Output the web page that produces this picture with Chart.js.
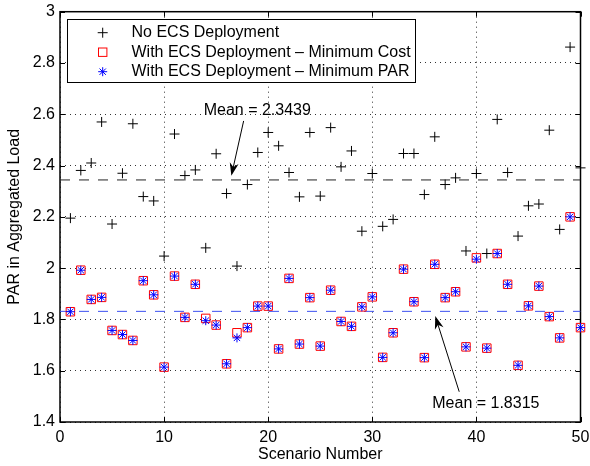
<!DOCTYPE html>
<html>
<head>
<meta charset="utf-8">
<title>PAR in Aggregated Load</title>
<script src="https://cdn.jsdelivr.net/npm/chart.js@4.4.0/dist/chart.umd.min.js"></script>
<style>
  body { margin: 0; background: #fff; }
  canvas { display: block; }
</style>
</head>
<body>
<canvas id="chart" width="590" height="466"></canvas>
<script>
const scenarios = [1, 2, 3, 4, 5, 6, 7, 8, 9, 10, 11, 12, 13, 14, 15, 16, 17, 18, 19, 20,
  21, 22, 23, 24, 25, 26, 27, 28, 29, 30, 31, 32, 33, 34, 35, 36, 37, 38, 39, 40,
  41, 42, 43, 44, 45, 46, 47, 48, 49, 50];

const noEcs = [2.195, 2.381, 2.410, 2.570, 2.172, 2.370, 2.563, 2.279, 2.262, 2.047,
  2.523, 2.361, 2.383, 2.079, 2.446, 2.291, 2.008, 2.326, 2.451, 2.529,
  2.477, 2.373, 2.278, 2.529, 2.281, 2.548, 2.395, 2.457, 2.144, 2.369,
  2.163, 2.190, 2.447, 2.447, 2.287, 2.512, 2.326, 2.352, 2.067, 2.369,
  2.057, 2.580, 2.373, 2.125, 2.243, 2.250, 2.538, 2.151, 2.862, 2.391];

const minCost = [1.830, 1.992, 1.878, 1.886, 1.757, 1.741, 1.718, 1.951, 1.896, 1.614,
  1.969, 1.808, 1.937, 1.804, 1.778, 1.627, 1.748, 1.768, 1.852, 1.852,
  1.685, 1.960, 1.704, 1.885, 1.696, 1.914, 1.792, 1.773, 1.849, 1.888,
  1.652, 1.748, 1.996, 1.869, 1.651, 2.015, 1.885, 1.908, 1.693, 2.040,
  1.688, 2.057, 1.937, 1.621, 1.853, 1.930, 1.811, 1.728, 2.200, 1.768];

const minPar = [1.830, 1.992, 1.878, 1.886, 1.757, 1.741, 1.718, 1.951, 1.896, 1.614,
  1.969, 1.808, 1.937, 1.795, 1.778, 1.627, 1.728, 1.768, 1.852, 1.852,
  1.685, 1.960, 1.704, 1.885, 1.696, 1.914, 1.792, 1.773, 1.849, 1.888,
  1.652, 1.748, 1.996, 1.869, 1.651, 2.015, 1.885, 1.908, 1.693, 2.035,
  1.688, 2.057, 1.937, 1.621, 1.853, 1.930, 1.811, 1.728, 2.200, 1.768];

const meanNoEcs = 2.3439;
const meanWithEcs = 1.8315;

const xTicks = [0, 10, 20, 30, 40, 50];
const yTicks = [1.4, 1.6, 1.8, 2, 2.2, 2.4, 2.6, 2.8, 3];

const seriesNames = [
  'No ECS Deployment',
  'With ECS Deployment \u2013 Minimum Cost',
  'With ECS Deployment \u2013 Minimum PAR'
];

// annotation text + arrow, given in data units
const notes = [
  { text: 'Mean = 2.3439', tx: 13.8, ty: 2.616, from: [17.64, 2.574], to: [16.46, 2.360] },
  { text: 'Mean = 1.8315', tx: 35.76, ty: 1.473, from: [38.35, 1.518], to: [36.05, 1.813] }
];

const FONT = '16px "Liberation Sans", Arial, sans-serif';
Chart.defaults.font.family = '"Liberation Sans", Arial, sans-serif';
Chart.defaults.font.size = 16;
Chart.defaults.color = '#000';

const pts = vals => vals.map((v, i) => ({ x: scenarios[i], y: v }));

function arrow(ctx, x1, y1, x2, y2) {
  const ang = Math.atan2(y2 - y1, x2 - x1);
  const len = 13, half = 4.5;
  ctx.beginPath();
  ctx.moveTo(x1, y1);
  ctx.lineTo(x2 - Math.cos(ang) * 8, y2 - Math.sin(ang) * 8);
  ctx.stroke();
  const bx = x2 - Math.cos(ang) * len, by = y2 - Math.sin(ang) * len;
  const nx = -Math.sin(ang), ny = Math.cos(ang);
  ctx.beginPath();
  ctx.moveTo(x2, y2);
  ctx.lineTo(bx + nx * half, by + ny * half);
  ctx.lineTo(x2 - Math.cos(ang) * 9, y2 - Math.sin(ang) * 9);
  ctx.lineTo(bx - nx * half, by - ny * half);
  ctx.closePath();
  ctx.fill();
}

const matlabBits = {
  id: 'matlabBits',
  beforeDatasetsDraw(chart) {
    const { ctx, chartArea: a, scales: { x, y } } = chart;
    ctx.save();
    ctx.strokeStyle = '#000';
    ctx.lineWidth = 1;
    // inside tick marks on all four sides
    ctx.beginPath();
    xTicks.forEach(v => {
      const px = Math.round(x.getPixelForValue(v)) + 0.5;
      ctx.moveTo(px, a.bottom); ctx.lineTo(px, a.bottom - 5);
      ctx.moveTo(px, a.top); ctx.lineTo(px, a.top + 5);
    });
    yTicks.forEach(v => {
      const py = Math.round(y.getPixelForValue(v)) + 0.5;
      ctx.moveTo(a.left, py); ctx.lineTo(a.left + 5, py);
      ctx.moveTo(a.right, py); ctx.lineTo(a.right - 5, py);
    });
    ctx.stroke();
    ctx.lineWidth = 1.5;
    ctx.strokeRect(a.left, a.top, a.right - a.left, a.bottom - a.top);
    ctx.restore();
  },
  afterDraw(chart) {
    const { ctx, chartArea: a, scales: { x, y } } = chart;
    ctx.save();
    ctx.font = FONT;
    ctx.fillStyle = '#000';
    ctx.strokeStyle = '#000';
    ctx.lineWidth = 1;

    // axis titles
    ctx.textAlign = 'center';
    ctx.textBaseline = 'middle';
    ctx.fillText('Scenario Number', (a.left + a.right) / 2, 455);
    ctx.save();
    ctx.translate(15, (a.top + a.bottom) / 2);
    ctx.rotate(-Math.PI / 2);
    ctx.fillText('PAR in Aggregated Load', 0, 0);
    ctx.restore();

    // mean annotations
    ctx.textAlign = 'left';
    notes.forEach(n => {
      ctx.fillText(n.text, x.getPixelForValue(n.tx), y.getPixelForValue(n.ty));
      arrow(ctx,
        x.getPixelForValue(n.from[0]), y.getPixelForValue(n.from[1]),
        x.getPixelForValue(n.to[0]), y.getPixelForValue(n.to[1]));
    });

    // legend box
    const lx = 67.5, ly = 19.5, lw = 348, lh = 63;
    ctx.fillStyle = '#fff';
    ctx.fillRect(lx, ly, lw, lh);
    ctx.strokeRect(lx, ly, lw, lh);
    const rows = [32.7, 52.2, 71.7];
    const mx = 102.7;
    // +
    ctx.strokeStyle = '#000';
    ctx.beginPath();
    ctx.moveTo(mx - 5, rows[0]); ctx.lineTo(mx + 5, rows[0]);
    ctx.moveTo(mx, rows[0] - 5); ctx.lineTo(mx, rows[0] + 5);
    ctx.stroke();
    // square
    ctx.strokeStyle = '#ff0000';
    ctx.strokeRect(mx - 4.2, rows[1] - 4.2, 8.4, 8.4);
    // asterisk
    ctx.strokeStyle = '#0000ff';
    ctx.beginPath();
    for (let k = 0; k < 4; k++) {
      const t = k * Math.PI / 4, r = 4.5;
      ctx.moveTo(mx - Math.cos(t) * r, rows[2] - Math.sin(t) * r);
      ctx.lineTo(mx + Math.cos(t) * r, rows[2] + Math.sin(t) * r);
    }
    ctx.stroke();
    ctx.fillStyle = '#000';
    seriesNames.forEach((s, i) => ctx.fillText(s, 131.5, rows[i]));
    ctx.restore();
  }
};

new Chart(document.getElementById('chart'), {
  type: 'scatter',
  data: {
    datasets: [
      {
        label: seriesNames[0], data: pts(noEcs), order: 3,
        pointStyle: 'cross', pointRadius: 5, borderColor: '#000', borderWidth: 1,
        backgroundColor: 'transparent', clip: false
      },
      {
        label: seriesNames[1], data: pts(minCost), order: 2,
        pointStyle: 'rect', pointRadius: 6, borderColor: '#ff0000', borderWidth: 1,
        backgroundColor: 'transparent', clip: false
      },
      {
        label: seriesNames[2], data: pts(minPar), order: 1,
        pointStyle: 'star', pointRadius: 4.5, borderColor: '#0000ff', borderWidth: 1,
        backgroundColor: 'transparent', clip: false
      },
      {
        type: 'line', label: 'mean no ECS', order: 4,
        data: [{ x: xTicks[0], y: meanNoEcs }, { x: xTicks[xTicks.length - 1], y: meanNoEcs }],
        borderColor: '#222', borderWidth: 1, borderDash: [10, 9], pointRadius: 0
      },
      {
        type: 'line', label: 'mean with ECS', order: 4,
        data: [{ x: xTicks[0], y: meanWithEcs }, { x: xTicks[xTicks.length - 1], y: meanWithEcs }],
        borderColor: 'rgb(60,80,240)', borderWidth: 1, borderDash: [10, 9], pointRadius: 0
      }
    ]
  },
  options: {
    responsive: false,
    animation: false,
    events: [],
    layout: { padding: { top: 11.7, right: 9.5, left: 0, bottom: 0 } },
    plugins: { legend: { display: false }, tooltip: { enabled: false } },
    scales: {
      x: {
        type: 'linear', min: 0, max: 50,
        afterFit: s => { s.height = 44; s.paddingLeft = 0; s.paddingRight = 0; },
        afterBuildTicks: s => { s.ticks = xTicks.map(v => ({ value: v })); },
        ticks: { padding: 6, maxRotation: 0, autoSkip: false },
        grid: { color: '#333', lineWidth: 1, drawTicks: false },
        border: { display: false, dash: [1, 4] }
      },
      y: {
        type: 'linear', min: 1.4, max: 3,
        afterFit: s => { s.width = 60; s.paddingTop = 0; s.paddingBottom = 0; },
        afterBuildTicks: s => { s.ticks = yTicks.map(v => ({ value: v })); },
        ticks: { padding: 5, autoSkip: false, callback: v => String(v) },
        grid: { color: '#333', lineWidth: 1, drawTicks: false },
        border: { display: false, dash: [1, 4] }
      }
    }
  },
  plugins: [matlabBits]
});
</script>
</body>
</html>
